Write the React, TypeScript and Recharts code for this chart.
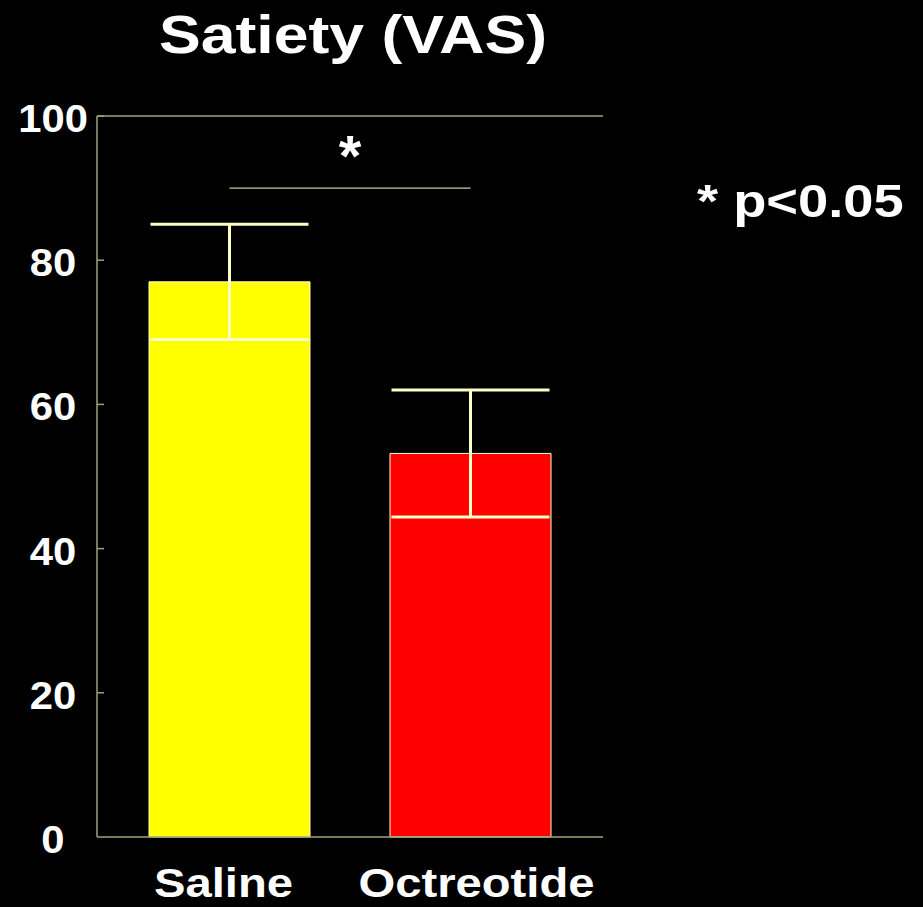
import React from 'react';
import { BarChart, Bar, XAxis, YAxis, ErrorBar, Cell, ReferenceLine } from 'recharts';

const categories = ['Saline', 'Octreotide'];
const satietyMeans = [77, 53.2];
const satietyErrors = [8, 8.8];
const barColors = ['#FFFF00', '#FF0000'];
const yTicks = [0, 20, 40, 60, 80, 100];
const titleText = 'Satiety (VAS)';
const sigMarker = '*';
const sigLevel = 90;
const noteText = '* p<0.05';

const data = categories.map((name, i) => ({ name, value: satietyMeans[i], err: satietyErrors[i] }));

const AXIS = '#A0A078';
const CREAM = '#FFFFC8';
const FONT = '"Liberation Sans", Arial, Helvetica, sans-serif';
const SX = 1.18;

const YTick = (props: any) => {
  const { x, y, payload } = props;
  return (
    <g>
      {payload.value !== 0 && (
        <line x1={x} x2={x + 7} y1={y} y2={y} stroke={AXIS} strokeWidth={1.5} />
      )}
      <text
        transform={`translate(${x - 44},${y + 16}) scale(1.1,1)`}
        textAnchor="middle"
        fill="#FFFFFF"
        fontSize={38}
        fontWeight="bold"
        fontFamily={FONT}
      >
        {payload.value}
      </text>
    </g>
  );
};

const XTick = (props: any) => {
  const { x, y, payload } = props;
  return (
    <text
      transform={`translate(${x},${y + 60}) scale(${SX},1)`}
      textAnchor="middle"
      fill="#FFFFFF"
      fontSize={40}
      fontWeight="bold"
      fontFamily={FONT}
    >
      {payload.value}
    </text>
  );
};

export default function App() {
  return (
    <div style={{ position: 'absolute', left: 0, top: 0, width: 923, height: 907, background: '#000000' }}>
      <BarChart
        width={923}
        height={907}
        data={data}
        margin={{ top: 116, right: 320, bottom: 0, left: 0 }}
        barCategoryGap={40}
      >
        <XAxis dataKey="name" hide height={0} padding={{ left: 12, right: 12 }} />
        <XAxis
          xAxisId="lbl"
          dataKey="name"
          height={70}
          axisLine={{ stroke: AXIS, strokeWidth: 1.5 }}
          tickLine={false}
          tickSize={0}
          tickMargin={0}
          tick={<XTick />}
          interval={0}
        />
        <YAxis
          width={97}
          domain={[0, 100]}
          ticks={yTicks}
          interval={0}
          axisLine={{ stroke: AXIS, strokeWidth: 1.5 }}
          tickLine={false}
          tickSize={0}
          tickMargin={0}
          tick={<YTick />}
        />
        <YAxis
          yAxisId="r"
          orientation="right"
          width={0}
          domain={[0, 100]}
          tick={false}
          tickLine={false}
          axisLine={{ stroke: AXIS, strokeWidth: 1.5 }}
        />
        <ReferenceLine y={100} stroke={AXIS} strokeWidth={1.5} />
        <Bar dataKey="value" stroke={CREAM} strokeWidth={1} isAnimationActive={false}>
          {data.map((d, i) => (
            <Cell key={d.name} fill={barColors[i]} />
          ))}
          <ErrorBar dataKey="err" width={79} stroke={CREAM} strokeWidth={3} isAnimationActive={false} />
        </Bar>
        <ReferenceLine
          segment={[
            { x: categories[0], y: sigLevel },
            { x: categories[1], y: sigLevel },
          ]}
          stroke={CREAM}
          strokeWidth={1}
          label={{
            value: sigMarker,
            position: 'top',
            offset: 12,
            fill: '#FFFFFF',
            fontSize: 58,
            fontWeight: 'bold',
            fontFamily: FONT,
          }}
        />
      </BarChart>
      <svg
        width={923}
        height={907}
        style={{ position: 'absolute', left: 0, top: 0, pointerEvents: 'none' }}
      >
        <text
          transform={`translate(353,53) scale(${SX},1)`}
          textAnchor="middle"
          fill="#FFFFFF"
          fontSize={53}
          fontWeight="bold"
          fontFamily={FONT}
        >
          {titleText}
        </text>
        <text
          transform={`translate(697,217) scale(1.18,1)`}
          textAnchor="start"
          fill="#FFFFFF"
          fontSize={46}
          fontWeight="bold"
          fontFamily={FONT}
        >
          {noteText}
        </text>
      </svg>
    </div>
  );
}
